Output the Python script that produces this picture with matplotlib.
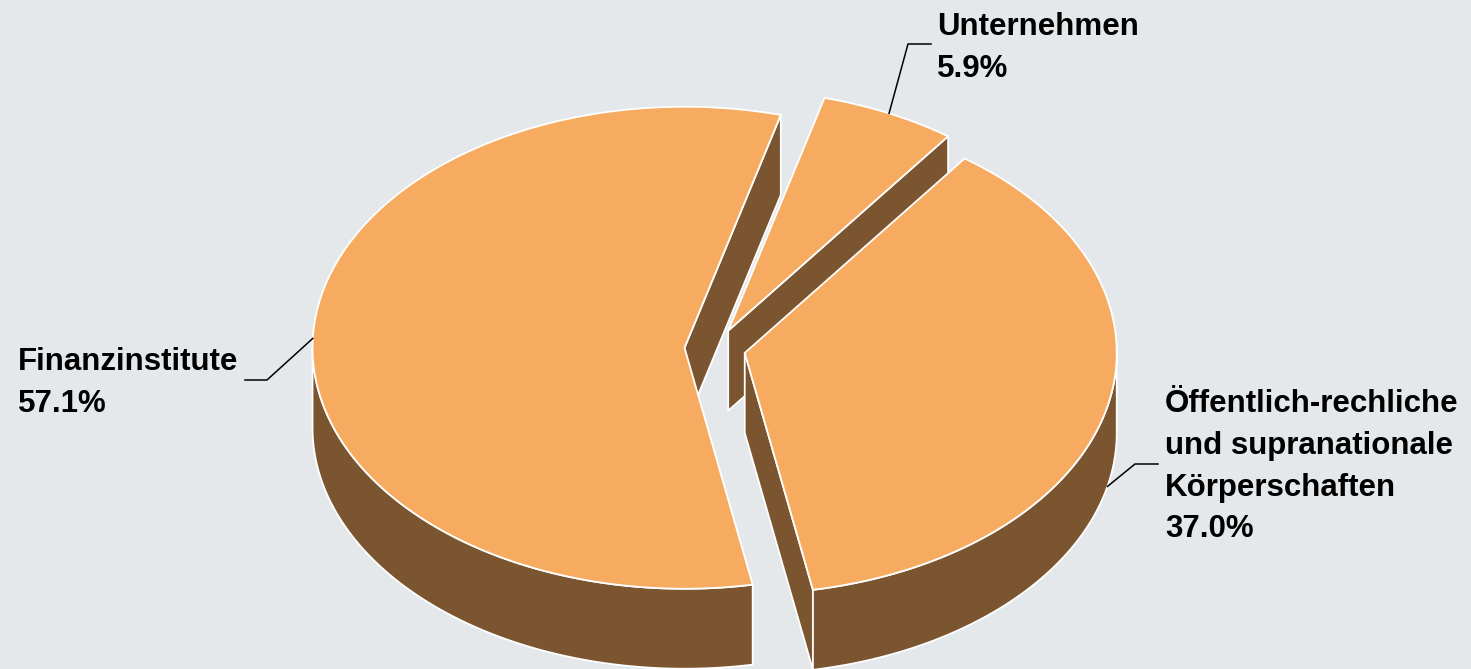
#!/usr/bin/env python

import numpy as np
import matplotlib.pyplot as plt
from matplotlib.patches import Polygon

# Chart data (clockwise from the start angle).
labels = [
    "Unternehmen",
    "Öffentlich-rechliche\nund supranationale\nKörperschaften",
    "Finanzinstitute",
]
shares = [5.9, 37.0, 57.1]

# Label placement in pixels: text origin (left, first baseline) and leader line.
label_pos = [(937, 35), (1165, 412), (18, 370)]
leader_elbow = [(908, 44), (1135, 464), (267, 380)]
leader_end = [(931, 44), (1158, 464), (245, 380)]

top_color = "#F6AB61"
side_color = "#7A5530"
bg_color = "#E4E8EB"

W, H = 1471, 669
cx, cy = 715, 348.5
rx, ry = 372, 241
depth = 80
explode = 0.082
start_angle = 15.0


def rim(theta, ox, oy, dz=0.0):
    # theta in degrees, clockwise from 12 o'clock, y grows downwards
    t = np.radians(np.atleast_1d(theta))
    return np.column_stack([ox + rx * np.sin(t), oy - ry * np.cos(t) + dz])


def patch(ax, pts, color):
    ax.add_patch(
        Polygon(pts, closed=True, facecolor=color, edgecolor="white",
                linewidth=1.3, joinstyle="round")
    )


fig = plt.figure(figsize=(W / 100, H / 100), dpi=100)
fig.patch.set_facecolor(bg_color)
ax = fig.add_axes([0, 0, 1, 1])
ax.set_xlim(0, W)
ax.set_ylim(H, 0)
ax.axis("off")

# Slice geometry from the values.
spans = np.array(shares) / sum(shares) * 360
edges = start_angle + np.concatenate([[0], np.cumsum(spans)])
slices = []
for i in range(len(shares)):
    t0, t1 = edges[i], edges[i + 1]
    mid = np.radians((t0 + t1) / 2)
    ox = cx + explode * rx * np.sin(mid)
    oy = cy - explode * ry * np.cos(mid)
    slices.append((t0, t1, ox, oy))

# Draw back to front.
order = sorted(range(len(slices)), key=lambda i: slices[i][3])
for i in order:
    t0, t1, ox, oy = slices[i]
    apex = np.array([[ox, oy]])

    # Radial walls facing the viewer.
    for theta, is_end in ((t0, False), (t1, True)):
        s = np.sin(np.radians(theta))
        if (is_end and s > 0) or (not is_end and s < 0):
            r_top = rim(theta, ox, oy)
            r_bot = rim(theta, ox, oy, depth)
            pts = np.vstack([apex, r_top, r_bot, apex + [0, depth]])
            patch(ax, pts, side_color)

    # Curved outer wall on the front half.
    for k in (0, 360):
        lo, hi = max(t0, 90 + k), min(t1, 270 + k)
        if lo < hi:
            th = np.linspace(lo, hi, 200)
            pts = np.vstack([rim(th, ox, oy), rim(th[::-1], ox, oy, depth)])
            patch(ax, pts, side_color)

    # Top face.
    th = np.linspace(t0, t1, 300)
    patch(ax, np.vstack([apex, rim(th, ox, oy)]), top_color)

# Labels with leader lines.
for i, (t0, t1, ox, oy) in enumerate(slices):
    mid = (t0 + t1) / 2
    dz = depth if np.cos(np.radians(mid)) < 0 else 0
    anchor = rim(mid, ox, oy, dz)[0]
    xs = [anchor[0], leader_elbow[i][0], leader_end[i][0]]
    ys = [anchor[1], leader_elbow[i][1], leader_end[i][1]]
    ax.plot(xs, ys, color="black", linewidth=1.1)

    lines = (labels[i] + "\n" + f"{shares[i]:.1f}%").split("\n")
    x0, y0 = label_pos[i]
    for j, line in enumerate(lines):
        ax.text(x0, y0 + j * 41.8, line, fontsize=22.5, fontweight="bold",
                family="Liberation Sans", ha="left", va="baseline",
                color="black")

fig.savefig("out.png", dpi=100, facecolor=bg_color)
